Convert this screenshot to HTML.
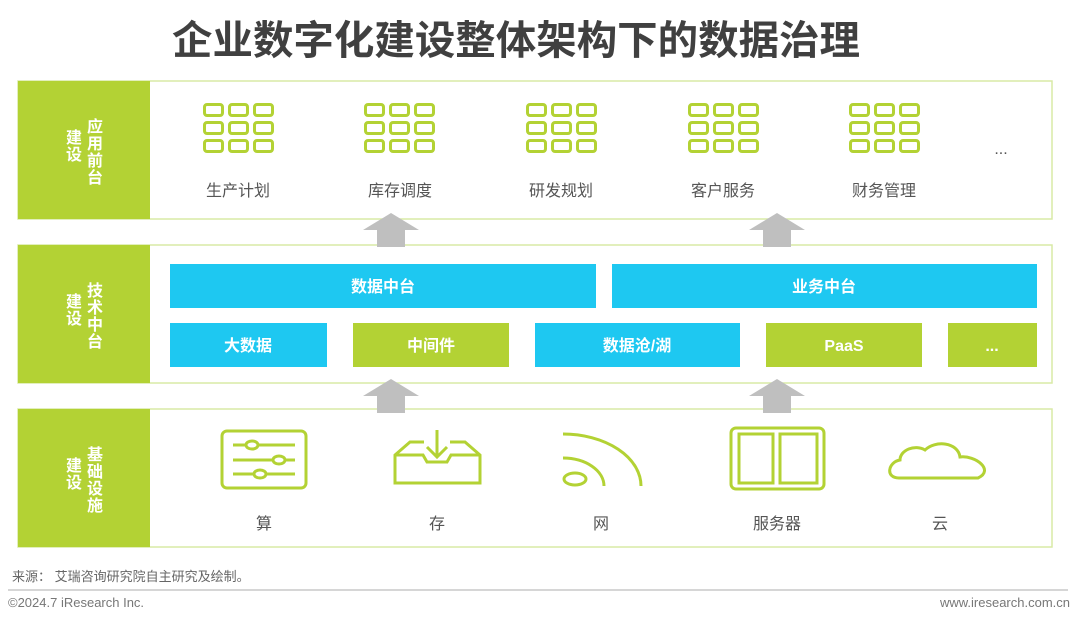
<!DOCTYPE html>
<html><head><meta charset="utf-8"><style>
html,body{margin:0;padding:0;background:#fff;width:1080px;height:618px;overflow:hidden}
svg text{font-family:"Liberation Sans","Noto Sans CJK SC",sans-serif}
</style></head><body>
<svg width="1080" height="618" viewBox="0 0 1080 618" xmlns="http://www.w3.org/2000/svg">
<defs>
<g id="grid" fill="none" stroke="#b3d234" stroke-width="3">
<rect x="1.5" y="1.5" width="18" height="11" rx="2.5"/><rect x="26.5" y="1.5" width="18" height="11" rx="2.5"/><rect x="51.5" y="1.5" width="18" height="11" rx="2.5"/>
<rect x="1.5" y="19.5" width="18" height="11" rx="2.5"/><rect x="26.5" y="19.5" width="18" height="11" rx="2.5"/><rect x="51.5" y="19.5" width="18" height="11" rx="2.5"/>
<rect x="1.5" y="37.5" width="18" height="11" rx="2.5"/><rect x="26.5" y="37.5" width="18" height="11" rx="2.5"/><rect x="51.5" y="37.5" width="18" height="11" rx="2.5"/>
</g>
<g id="arrow" fill="#bfbfbf"><polygon points="-28,17 0,0 28,17 14,17 14,34 -14,34 -14,17"/></g>
</defs>
<text x="516" y="54" font-size="40" font-weight="bold" fill="#404040" text-anchor="middle" textLength="688" lengthAdjust="spacingAndGlyphs">企业数字化建设整体架构下的数据治理</text>

<g stroke="#d9eaa6" stroke-width="1.5" fill="#fff">
<rect x="18" y="81" width="1034" height="138"/>
<rect x="18" y="245" width="1034" height="138"/>
<rect x="18" y="409" width="1034" height="138"/>
</g>
<g fill="#b3d234">
<rect x="18" y="81" width="132" height="138"/>
<rect x="18" y="245" width="132" height="138"/>
<rect x="18" y="409" width="132" height="138"/>
</g>
<g fill="#fff" font-size="16" font-weight="bold" text-anchor="middle">
<text x="95" y="132">应</text><text x="95" y="149">用</text><text x="95" y="166">前</text><text x="95" y="183">台</text>
<text x="74" y="143">建</text><text x="74" y="160">设</text>
<text x="95" y="296">技</text><text x="95" y="313">术</text><text x="95" y="330">中</text><text x="95" y="347">台</text>
<text x="74" y="307">建</text><text x="74" y="324">设</text>
<text x="95" y="460">基</text><text x="95" y="477">础</text><text x="95" y="494">设</text><text x="95" y="511">施</text>
<text x="74" y="471">建</text><text x="74" y="488">设</text>
</g>

<use href="#grid" x="203" y="103"/><use href="#grid" x="364" y="103"/><use href="#grid" x="526" y="103"/><use href="#grid" x="688" y="103"/><use href="#grid" x="849" y="103"/>
<g font-size="16" fill="#555" text-anchor="middle">
<text x="238" y="196">生产计划</text><text x="400" y="196">库存调度</text><text x="561" y="196">研发规划</text><text x="723" y="196">客户服务</text><text x="884" y="196">财务管理</text>
<text x="1001" y="154">...</text>
</g>

<use href="#arrow" x="391" y="213"/><use href="#arrow" x="777" y="213"/>
<use href="#arrow" x="391" y="379"/><use href="#arrow" x="777" y="379"/>

<g fill="#1ec8f1"><rect x="170" y="264" width="426" height="44"/><rect x="612" y="264" width="425" height="44"/>
<rect x="170" y="323" width="157" height="44"/><rect x="535" y="323" width="205" height="44"/></g>
<g fill="#b3d234"><rect x="353" y="323" width="156" height="44"/><rect x="766" y="323" width="156" height="44"/><rect x="948" y="323" width="89" height="44"/></g>
<g fill="#fff" font-size="16" font-weight="bold" text-anchor="middle">
<text x="383" y="292">数据中台</text><text x="824" y="292">业务中台</text>
<text x="248" y="351">大数据</text><text x="431" y="351">中间件</text><text x="637" y="351">数据沧/湖</text><text x="844" y="351">PaaS</text><text x="992" y="351">...</text>
</g>

<g fill="none" stroke="#b3d234" stroke-width="3">
<rect x="222" y="431" width="84" height="57" rx="5"/>
<line x1="233" y1="445" x2="295" y2="445"/><line x1="233" y1="460" x2="295" y2="460"/><line x1="233" y1="474" x2="295" y2="474"/>
<ellipse cx="252" cy="445" rx="6" ry="4" fill="#fff"/><ellipse cx="279" cy="460" rx="6" ry="4" fill="#fff"/><ellipse cx="260" cy="474" rx="6" ry="4" fill="#fff"/>
<path d="M424 442 H410 L395 455 V483 H480 V455 L465 442 H450"/>
<path d="M395 455 H423 L427 462 H447 L451 455 H480"/>
<path d="M437 430 V457 M427 447 L437 457 L447 447"/>
<ellipse cx="575" cy="479" rx="11" ry="6"/>
<path d="M563 458 A41 28 0 0 1 604 486"/><path d="M563 434 A78 52 0 0 1 641 486"/>
<rect x="731" y="428" width="93" height="61" rx="5"/>
<rect x="739" y="434" width="34" height="49"/><rect x="780" y="434" width="37" height="49"/>
<path d="M899 478 C885 478 888 462 900 460 C900 450 915 444 925 450 C935 440 958 442 960 457 C975 455 995 470 978 478 Z"/>
</g>
<g font-size="16" fill="#555" text-anchor="middle">
<text x="264" y="529">算</text><text x="437" y="529">存</text><text x="601" y="529">网</text><text x="777" y="529">服务器</text><text x="940" y="529">云</text>
</g>

<text x="12" y="581" font-size="13" fill="#666">来源：  艾瑞咨询研究院自主研究及绘制。</text>
<line x1="8" y1="590" x2="1068" y2="590" stroke="#c8c8c8" stroke-width="1.5"/>
<text x="8" y="607" font-size="13" fill="#777">©2024.7 iResearch Inc.</text>
<text x="1070" y="607" font-size="13" fill="#777" text-anchor="end">www.iresearch.com.cn</text>
</svg>
</body></html>
